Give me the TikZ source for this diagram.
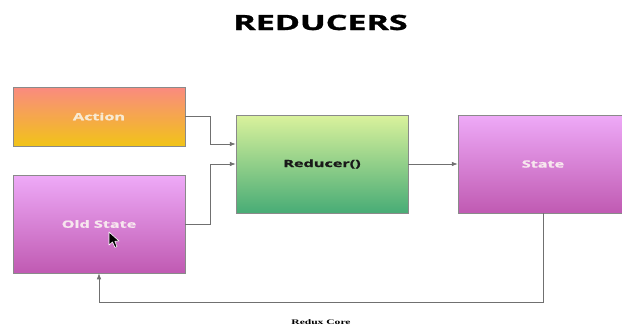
\documentclass[tikz,border=0pt]{standalone}
\usepackage{fontspec}
\setmainfont{Open Sans}
\newfontfamily\heavysans[FakeBold=1.2]{Open Sans Bold}
\newfontfamily\capserif{Liberation Serif}
\usetikzlibrary{arrows.meta,shadings}

\definecolor{actTop}{HTML}{FA8A80}
\definecolor{actBot}{HTML}{F1C418}
\definecolor{stTop}{HTML}{EEAAF8}
\definecolor{stBot}{HTML}{C05AB2}
\definecolor{redTop}{HTML}{DAF29C}
\definecolor{redBot}{HTML}{48AC76}
\definecolor{edge}{HTML}{8A8A8A}
\definecolor{wire}{HTML}{707070}
\definecolor{paleText}{HTML}{F7E6EE}
\definecolor{creamText}{HTML}{F8EAD2}

% wide, heavy labels
\newcommand{\widelabel}[1]{\scalebox{1.62}[1]{\heavysans #1}}

\tikzset{
  block/.style={draw=edge, line width=0.5pt, minimum width=172pt,
    minimum height=98pt, inner sep=0pt, font=\fontsize{10}{12}\selectfont},
  wireline/.style={draw=wire, line width=0.7pt, -{Latex[length=6pt,width=4.5pt]}},
}

\begin{document}
\begin{tikzpicture}[x=1pt,y=-1pt]
\useasboundingbox (0,0) rectangle (622,327);

% title
\node (title) at (320.5,22.5) {\fontsize{21}{24}\selectfont\scalebox{1.62}[1]{\heavysans REDUCERS}};

% blocks
\node[block, minimum height=59pt, top color=actTop, bottom color=actBot,
  text=creamText] (action) at (99,116.5) {\widelabel{Action}};
\node[block, top color=stTop, bottom color=stBot, text=paleText]
  (oldstate) at (99,224) {\widelabel{Old State}};
\node[block, top color=redTop, bottom color=redBot, text=black!90]
  (reducer) at (322,164) {\widelabel{Reducer()}};
\node[block, minimum width=170pt, top color=stTop, bottom color=stBot,
  text=paleText] (state) at (543,164) {\widelabel{State}};

% connectors
\draw[wireline] (action.east) -- ++(25,0) |- ([yshift=20pt]reducer.west);
\draw[wireline] (oldstate.east) -- ++(25,0) |- (reducer.west);
\draw[wireline] (reducer.east) -- (state.west);
\draw[wireline] (state.south) -- ++(0,89) -| (oldstate.south);

% caption
\node (caption) at (321,322) {\fontsize{7}{8}\selectfont\capserif\scalebox{1.65}[1]{\bfseries Redux Core}};

% mouse pointer
\draw[fill=black, draw=white, line width=0.6pt, line join=round]
  (109,232) -- (109,245) -- (112.5,242) -- (115,247.5) -- (117,246.5)
  -- (114.8,241.3) -- (119,241) -- cycle;
\end{tikzpicture}
\end{document}
